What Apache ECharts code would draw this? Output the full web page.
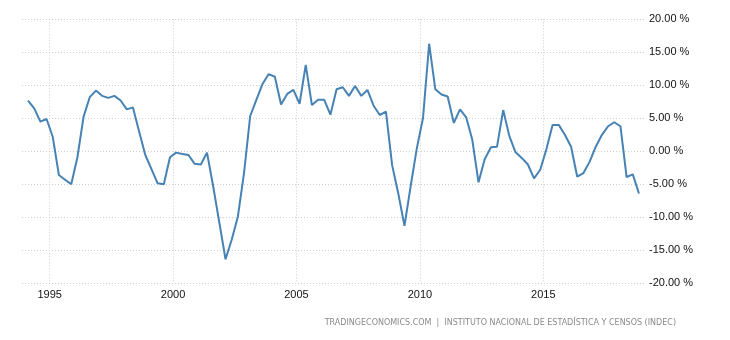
<!DOCTYPE html>
<html>
<head>
<meta charset="utf-8">
<script src="https://cdn.jsdelivr.net/npm/echarts@6/dist/echarts.min.js"></script>
<style>
  html, body { margin: 0; padding: 0; background: #fff; }
  #chart { width: 730px; height: 340px; }
</style>
</head>
<body>
<div id="chart"></div>
<script>
// Quarterly GDP growth, year-on-year (%), 1994 Q1 .. 2018 Q4
const firstYear = 1994;
const quarters = [];
for (let y = firstYear; y <= 2018; y++) {
  for (let q = 1; q <= 4; q++) quarters.push(y + 'Q' + q);
}

const growth = [
  7.67, 6.5, 4.5, 4.9,          // 1994
  2.2, -3.6, -4.3, -5.0,        // 1995
  -0.9, 5.25, 8.2, 9.2,         // 1996
  8.4, 8.1, 8.4, 7.7,           // 1997
  6.35, 6.65, 3.0, -0.56,       // 1998
  -2.7, -4.85, -5.0, -0.9,      // 1999
  -0.2, -0.4, -0.56, -1.9,      // 2000
  -2.0, -0.2, -5.3, -10.8,      // 2001
  -16.36, -13.4, -9.9, -3.3,    // 2002
  5.35, 7.8, 10.2, 11.7,        // 2003
  11.3, 7.1, 8.7, 9.3,          // 2004
  7.2, 13.1, 7.0, 7.8,          // 2005
  7.8, 5.55, 9.4, 9.7,          // 2006
  8.4, 9.9, 8.4, 9.3,           // 2007
  6.9, 5.5, 6.0, -2.1,          // 2008
  -6.4, -11.3, -5.3, 0.45,      // 2009
  5.0, 16.3, 9.4, 8.6,          // 2010
  8.3, 4.3, 6.35, 5.15,         // 2011
  1.7, -4.7, -1.2, 0.6,         // 2012
  0.7, 6.25, 2.3, -0.15,        // 2013
  -1.0, -2.0, -4.1, -2.8,       // 2014
  0.3, 4.0, 4.0, 2.5,           // 2015
  0.7, -3.85, -3.3, -1.6,       // 2016
  0.7, 2.5, 3.8, 4.4,           // 2017
  3.8, -3.9, -3.5, -6.4         // 2018
];

const yearTicks = [1995, 2000, 2005, 2010, 2015];
const yTicks = [-20, -15, -10, -5, 0, 5, 10, 15, 20];
const sourceText = 'TRADINGECONOMICS.COM  |  INSTITUTO NACIONAL DE ESTADÍSTICA Y CENSOS (INDEC)';

// place each quarter at its mid-point on a decimal-year scale
function quarterPos(label) {
  const y = parseInt(label.slice(0, 4), 10);
  const q = parseInt(label.slice(5), 10);
  return y + (q - 1) / 4 + 0.125;
}
const seriesData = quarters.map((qq, i) => [quarterPos(qq), growth[i]]);

const gridLine = { show: true, lineStyle: { color: '#cfcfcf', type: [1, 2], width: 1 } };

const chart = echarts.init(document.getElementById('chart'), null, { renderer: 'canvas' });
chart.setOption({
  animation: false,
  backgroundColor: '#ffffff',
  grid: { left: 22, right: 85, top: 19.3, bottom: 56.7, containLabel: false },
  xAxis: {
    type: 'value',
    min: 1993.88,
    max: 2019.12,
    axisLine: { show: false },
    axisTick: { show: false, customValues: yearTicks },
    axisLabel: {
      customValues: yearTicks,
      margin: 6,
      color: '#111',
      fontFamily: 'Liberation Sans, Arial, sans-serif',
      fontSize: 11,
      formatter: v => String(Math.round(v))
    },
    splitLine: gridLine
  },
  yAxis: {
    type: 'value',
    position: 'right',
    min: -20,
    max: 20,
    interval: 5,
    axisLine: { show: false },
    axisTick: { show: false },
    axisLabel: {
      margin: 4,
      color: '#111',
      fontFamily: 'Liberation Sans, Arial, sans-serif',
      fontSize: 11,
      formatter: v => v.toFixed(2) + ' %'
    },
    splitLine: gridLine
  },
  graphic: [{
    type: 'text',
    right: 54,
    top: 319,
    style: {
      text: sourceText,
      fill: '#8a8a8a',
      font: '8px "DejaVu Sans", Verdana, sans-serif'
    }
  }],
  series: [{
    type: 'line',
    data: seriesData,
    showSymbol: false,
    symbol: 'none',
    lineStyle: { color: '#4682B4', width: 2 },
    z: 3
  }]
});
</script>
</body>
</html>
